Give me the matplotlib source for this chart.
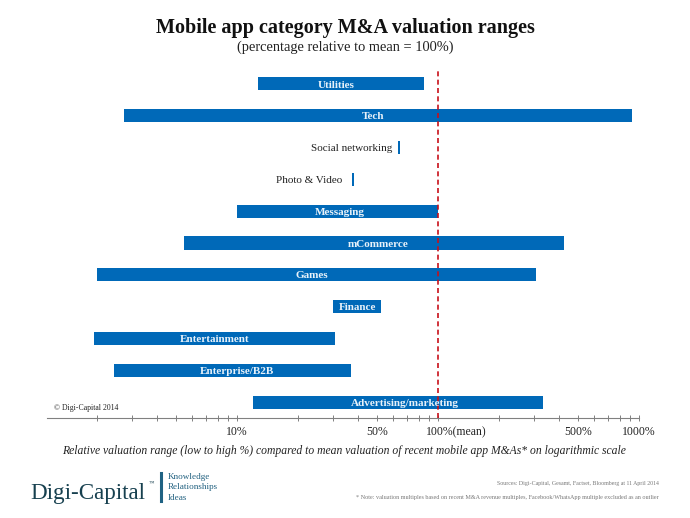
#!/usr/bin/env python
# Mobile app M&A valuation ranges, horizontal floating bars on a log axis
import matplotlib
matplotlib.use("Agg")
import matplotlib.pyplot as plt
from matplotlib.ticker import LogLocator, NullFormatter

plt.rcParams['font.family'] = ['Liberation Serif', 'DejaVu Serif']

# bottom to top
categories = ["Advertising/marketing", "Enterprise/B2B", "Entertainment", "Finance", "Games",
              "mCommerce", "Messaging", "Photo & Video", "Social networking", "Tech", "Utilities"]
low = [12, 2.44, 1.94, 30, 2.01, 5.45, 10, 37.3, 63.2, 2.74, 12.7]
high = [333, 36.9, 30.7, 52, 307, 423, 100, 38.2, 64.7, 923, 85]
tick_values = [10, 50, 500, 1000]
tick_labels = ["10%", "50%", "500%", "1000%"]

# label placement, points from the bar's log midpoint
label_shift = {"Advertising/marketing": 5, "Enterprise/B2B": 3.5, "Games": -3.5, "mCommerce": 3,
               "Messaging": 1.5, "Tech": -3.5, "Utilities": -3.5, "Finance": 0.7, "Entertainment": 0}
outside_gap = {"Photo & Video": -7, "Social networking": -4}

W, H = 690, 518
fig = plt.figure(figsize=(W / 100, H / 100), dpi=100)
ax = fig.add_axes([47 / W, 1 - 418 / H, (639 - 47) / W, (418 - 68) / H])
ax.set_xscale('log')
ax.set_xlim(100 * 10 ** ((47 - 438) / 201), 100 * 10 ** ((639 - 438) / 201))
ax.set_ylim(-0.5, 10.5)

for i, name in enumerate(categories):
    ax.barh(i, high[i] - low[i], left=low[i], height=0.41, color='#0069b8', zorder=2)
    if name in outside_gap:
        ax.annotate(name, (low[i], i), xytext=(outside_gap[name], -1), textcoords='offset points',
                    ha='right', va='center', fontsize=8, color='#222222', zorder=4)
    else:
        mid = (low[i] * high[i]) ** 0.5
        ax.annotate(name, (mid, i), xytext=(label_shift[name], -0.8), textcoords='offset points',
                    ha='center', va='center', fontsize=8, fontweight='bold',
                    color='#e8f2fa', zorder=4)

# mean line
ax.axvline(100, color='#c8101a', linestyle=(0, (3, 2)), linewidth=1.2, zorder=3)

# axis cosmetics
for side in ['top', 'left', 'right']:
    ax.spines[side].set_visible(False)
ax.spines['bottom'].set_color('#808080')
ax.yaxis.set_visible(False)
ax.xaxis.set_major_locator(LogLocator(base=10, numticks=6))
ax.xaxis.set_minor_locator(LogLocator(base=10, subs=range(2, 10), numticks=6))
ax.xaxis.set_major_formatter(NullFormatter())
ax.xaxis.set_minor_formatter(NullFormatter())
ax.tick_params(axis='x', which='both', direction='inout', length=5, width=0.7, color='#808080')

trans = ax.get_xaxis_transform()
for v, t in zip(tick_values, tick_labels):
    ax.text(v, -0.04, t, transform=trans, ha='center', va='center', fontsize=8.5, color='#222222')
fig.text(426 / W, 1 - 432 / H, "100%(mean)", ha='left', va='center', fontsize=8.5, color='#222222')

fig.text(54 / W, 1 - 408 / H, "© Digi-Capital 2014", ha='left', va='center', fontsize=5.6, color='#222222')

# titles
fig.text(345 / W, 1 - 28 / H, "Mobile app category M&A valuation ranges", ha='center', va='center',
         fontsize=14.5, fontweight='bold', color='#111111')
fig.text(345 / W, 1 - 47 / H, "(percentage relative to mean = 100%)", ha='center', va='center',
         fontsize=10.4, color='#222222')
fig.text(344 / W, 1 - 451 / H,
         "Relative valuation range (low to high %) compared to mean valuation of recent mobile app M&As* on logarithmic scale",
         ha='center', va='center', fontsize=8.4, style='italic', color='#222222')

# logo
fig.text(30 / W, 1 - 493 / H, "Digi-Capital", ha='left', va='center', fontsize=16.6, color='#17404f')
fig.text(149 / W, 1 - 483 / H, "™", ha='left', va='center', fontsize=4, color='#17404f')
fig.add_artist(plt.Line2D([161 / W, 161 / W], [1 - 473 / H, 1 - 501 / H], color='#1f6283', linewidth=2.2))
for y, t in zip([477, 487, 498], ["Knowledge", "Relationships", "Ideas"]):
    fig.text(168 / W, 1 - y / H, t, ha='left', va='center', fontsize=6.6, color='#1f5f7f')

# source notes
fig.text(659 / W, 1 - 483 / H, "Sources: Digi-Capital, Gesamt, Factset, Bloomberg at 11 April 2014",
         ha='right', va='center', fontsize=4.2, color='#777777')
fig.text(659 / W, 1 - 497 / H,
         "* Note: valuation multiples based on recent M&A revenue multiples, Facebook/WhatsApp multiple excluded as an outlier",
         ha='right', va='center', fontsize=4.4, color='#777777')

fig.savefig('out.png', dpi=100)
